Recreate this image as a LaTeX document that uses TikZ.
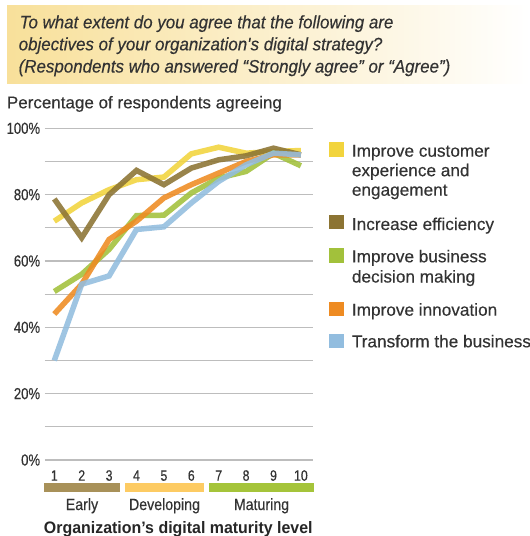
\documentclass[tikz,border=0pt]{standalone}
\usepackage{fontspec}
\setmainfont{Liberation Sans}[FakeBold=0.3]
\newfontfamily\fLeg[FakeBold=0.3]{Liberation Sans}
\newfontfamily\fTitle[FakeStretch=0.94,FakeBold=0.3]{Liberation Sans}
\newfontfamily\fNum[FakeStretch=0.82,FakeBold=0.3]{Liberation Sans}
\newfontfamily\fBand[FakeStretch=0.87,FakeBold=0.3]{Liberation Sans}
\newfontfamily\fBold[FakeStretch=0.96]{Liberation Sans}
\definecolor{cYel}{HTML}{F2D43D}
\definecolor{cBrn}{HTML}{8C7433}
\definecolor{cGrn}{HTML}{A2C13B}
\definecolor{cOrg}{HTML}{EE8B22}
\definecolor{cBlu}{HTML}{92BDDF}
\definecolor{bEarly}{HTML}{A89159}
\definecolor{bDev}{HTML}{FDCB63}
\definecolor{bMat}{HTML}{A5C43A}
\definecolor{titleY}{HTML}{F8E09A}
\definecolor{gridC}{HTML}{BDBDBD}
\definecolor{txtC}{HTML}{333333}
\tikzset{
  series/.style={line width=5.5pt, opacity=0.88, line join=miter},
  gridline/.style={gridC, line width=1.1pt},
  ylab/.style={anchor=east, inner sep=0pt, text=txtC, font=\fNum\fontsize{16}{16}\selectfont},
  xnum/.style={anchor=base, inner sep=0pt, text=txtC, font=\fNum\fontsize{15}{15}\selectfont},
  bandlab/.style={anchor=base, inner sep=0pt, text=txtC, font=\fBand\fontsize{16.3}{16.3}\selectfont},
  legtxt/.style={anchor=base west, inner sep=0pt, text=txtC, font=\fLeg\fontsize{17.2}{17.2}\selectfont},
  titletxt/.style={anchor=base west, inner sep=0pt, text=txtC, font=\fTitle\itshape\fontsize{18}{18}\selectfont},
}
\begin{document}
\begin{tikzpicture}[x=1pt,y=-1pt]
\useasboundingbox[fill=white] (0,0) rectangle (530,536);
% title box
\shade[left color=titleY, right color=white] (7,5) rectangle (530,83);
\node[titletxt] (t1) at (19.5,28.3) {To what extent do you agree that the following are};
\node[titletxt] (t2) at (18.5,50.3) {objectives of your organization\textquotesingle s digital strategy?};
\node[titletxt] (t3) at (18.5,72.5) {(Respondents who answered “Strongly agree” or “Agree”)};
\node[anchor=base west, inner sep=0pt, text=txtC, font=\fLeg\fontsize{17}{17}\selectfont] (sub) at (6.7,108.3) {Percentage of respondents agreeing};
% chart
\begin{scope}[shift={(54.3,460)}, x=27.4pt, y=3.317pt]
  \foreach \v in {0,10,...,100} \draw[gridline] (-0.34,\v) -- (9.44,\v);
  \foreach \v in {0,20,...,100} \node[ylab] (y\v) at (-0.51,\v) {\v\%};
  \draw[series, cYel] plot coordinates {(0,72) (1,77.5) (2,81.5) (3,84.5) (4,85.3) (5,92.3) (6,94.3) (7,92.5) (8,93) (9,93.3)};
  \draw[series, cBrn] plot coordinates {(0,78.7) (1,67) (2,80) (3,87.3) (4,83) (5,88) (6,90.5) (7,91.7) (8,94) (9,92)};
  \draw[series, cGrn] plot coordinates {(0,50.8) (1,56) (2,63.5) (3,73.7) (4,73.8) (5,80.5) (6,85) (7,87) (8,92.5) (9,88.7)};
  \draw[series, cOrg] plot coordinates {(0,44) (1,53) (2,66.5) (3,72) (4,79) (5,83) (6,86.5) (7,90) (8,92) (9,92)};
  \draw[series, cBlu] plot coordinates {(0,30) (1,53) (2,55.5) (3,69.5) (4,70.3) (5,77.5) (6,84) (7,89) (8,92.5) (9,92)};
\end{scope}
% x numbers
\foreach \i in {1,...,10} \node[xnum] (n\i) at ({54.3+(\i-1)*27.4},480.7) {\i};
% bands
\fill[bEarly] (44,483.3) rectangle (120,491.7);
\fill[bDev] (125,483.3) rectangle (204,491.7);
\fill[bMat] (209,483.3) rectangle (314,491.7);
\node[bandlab] (early) at (82,510) {Early};
\node[bandlab] (dev) at (164.5,510) {Developing};
\node[bandlab] (mat) at (261.5,510) {Maturing};
\node[anchor=base, inner sep=0pt, text=black!85, font=\fBold\bfseries\fontsize{16.6}{16.6}\selectfont] (xt) at (178.3,533.7) {Organization’s digital maturity level};
% legend
\fill[cYel] (329.3,142.3) rectangle (344,156.7);
\node[legtxt] (l1a) at (351.7,156.7) {Improve customer};
\node[legtxt] (l1b) at (351.7,176.2) {experience and};
\node[legtxt] (l1c) at (351.7,195.7) {engagement};
\fill[cBrn] (329.3,215) rectangle (344,229.3);
\node[legtxt] (l2) at (351.7,230) {Increase efficiency};
\fill[cGrn] (329.3,248.3) rectangle (344,262.7);
\node[legtxt] (l3a) at (351.7,262.3) {Improve business};
\node[legtxt] (l3b) at (351.7,282.5) {decision making};
\fill[cOrg] (329.3,301.7) rectangle (344,316);
\node[legtxt] (l4) at (351.7,315.7) {Improve innovation};
\fill[cBlu] (329.3,334) rectangle (344,348.3);
\node[legtxt] (l5) at (351.7,347.3) {Transform the business};
\end{tikzpicture}
\end{document}
